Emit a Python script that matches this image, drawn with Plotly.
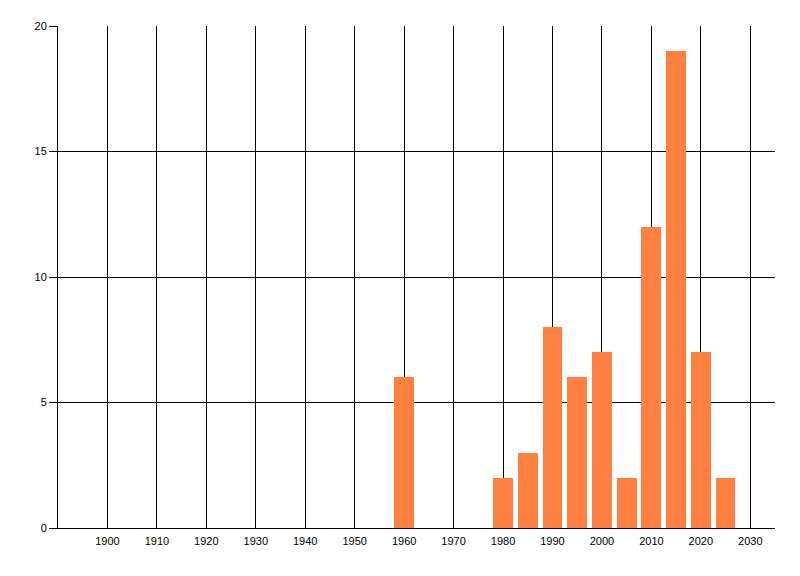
import plotly.graph_objects as go

years = [1960, 1980, 1985, 1990, 1995, 2000, 2005, 2010, 2015, 2020, 2025]
counts = [6, 2, 3, 8, 6, 7, 2, 12, 19, 7, 2]
x_ticks = list(range(1900, 2031, 10))
y_ticks = [0, 5, 10, 15, 20]

fig = go.Figure(go.Bar(x=years, y=counts, width=4, marker=dict(color="#FF8041", line=dict(width=0))))

# page body has an 8px default margin, so the figure is offset by 8px
fig.update_layout(
    width=800, height=576,
    margin=dict(l=50, r=33, t=18, b=56),
    paper_bgcolor="white", plot_bgcolor="white",
    font=dict(family="Liberation Sans, Arial, sans-serif", size=11, color="black"),
    showlegend=False,
    bargap=0,
)
fig.update_xaxes(
    range=[1890, 2035], tickvals=x_ticks, ticktext=[str(v) for v in x_ticks],
    showgrid=True, gridcolor="black", gridwidth=1,
    showline=True, linecolor="black", linewidth=1,
    ticks="outside", ticklen=3, tickcolor="white", zeroline=False,
)
fig.update_yaxes(
    range=[0, 20], tickvals=y_ticks,
    showgrid=True, gridcolor="black", gridwidth=1,
    showline=True, linecolor="black", linewidth=1,
    ticks="outside", ticklen=8, tickcolor="black", zeroline=False,
)

fig.write_html("out.html")
